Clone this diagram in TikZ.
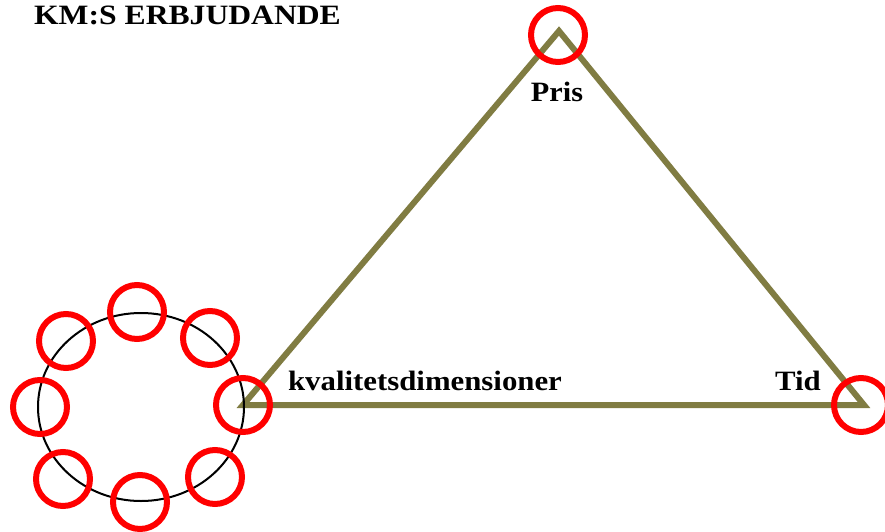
\documentclass[tikz,border=0pt]{standalone}
\usepackage{fontspec}
\setmainfont{Liberation Serif}
\usetikzlibrary{shapes.geometric}
\definecolor{olivec}{RGB}{128,124,66}
\definecolor{ringred}{RGB}{255,0,0}
\newcommand{\wide}[2]{\scalebox{#1}[1]{#2}}
\begin{document}
\begin{tikzpicture}[x=1pt,y=-1pt,
  ring/.style={circle,draw=ringred,line width=6pt,minimum size=54pt,inner sep=0pt},
  lbl/.style={font=\bfseries\fontsize{28}{30}\selectfont,inner sep=0pt,text=black,anchor=base}]
\useasboundingbox (0,0) rectangle (885,532);
\fill[white] (0,0) rectangle (885,532);
% triangle
\coordinate (top) at (559,31);
\coordinate (left) at (243,405);
\coordinate (right) at (864,405);
\draw[olivec,line width=6pt,line join=miter] (top) -- (right) -- (left) -- cycle;
% black ellipse
\node[ellipse,draw=black,line width=2pt,minimum width=206pt,minimum height=188pt,inner sep=0pt] (dim) at (141,407) {};
% red rings
\node[ring] (rtop) at (558,35) {};
\node[ring] (rright) at (861,405) {};
\node[ring] (r1) at (137,312) {};
\node[ring] (r2) at (210,338) {};
\node[ring] (r3) at (243,405) {};
\node[ring] (r4) at (215,477) {};
\node[ring] (r5) at (140,502) {};
\node[ring] (r6) at (63,479) {};
\node[ring] (r7) at (40,407) {};
\node[ring] (r8) at (66,341) {};
% labels
\node[lbl] (title) at (187.5,25) {\wide{1.13}{KM:S ERBJUDANDE}};
\node[lbl] (pris) at (557,102) {\wide{1.08}{Pris}};
\node[lbl] (kval) at (425,390) {\wide{1.1}{kvalitetsdimensioner}};
\node[lbl] (tid) at (798,390) {\wide{1.1}{Tid}};
\end{tikzpicture}
\end{document}
